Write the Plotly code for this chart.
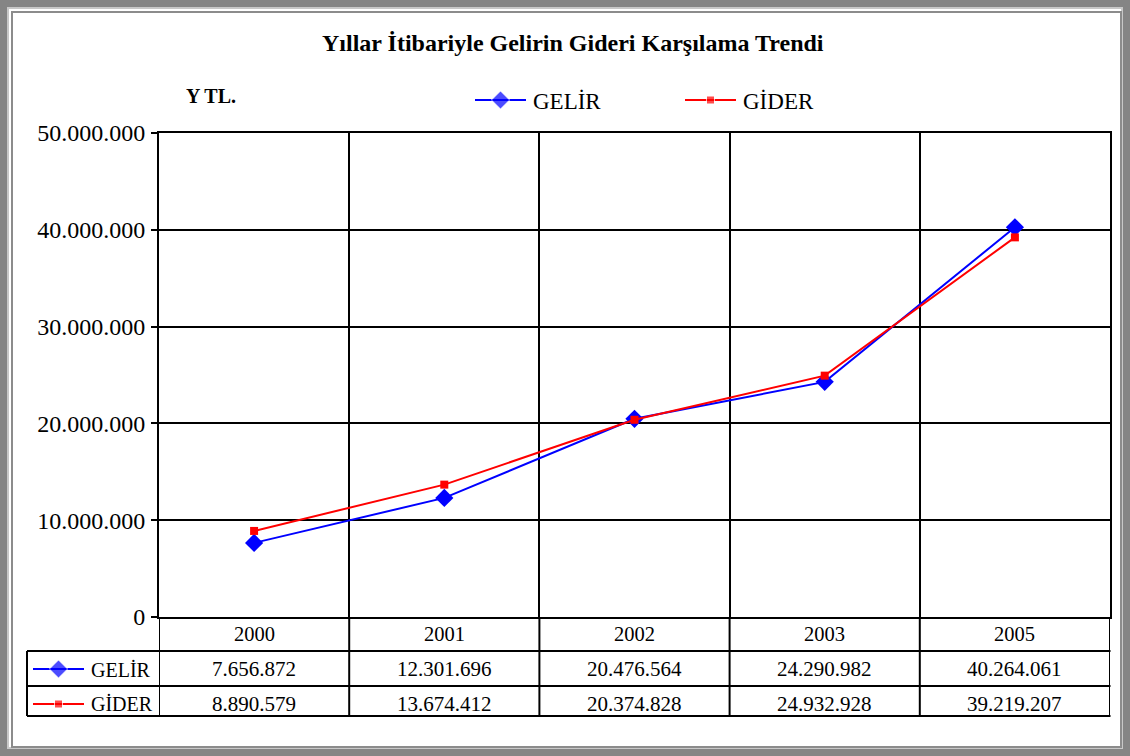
import plotly.graph_objects as go

# ---------------- data ----------------
years = ["2000", "2001", "2002", "2003", "2005"]
gelir = [7656872, 12301696, 20476564, 24290982, 40264061]
gider = [8890579, 13674412, 20374828, 24932928, 39219207]
series_names = ["GELİR", "GİDER"]
title_text = "Yıllar İtibariyle Gelirin Gideri Karşılama Trendi"
unit_text = "Y TL."

W, H = 1130, 756
FONT = "Liberation Serif"
BLUE = "#0000FF"
RED = "#FF0000"

def fmt(v):
    return f"{v:,}".replace(",", ".")

def px(x):
    return x / W

def py(y):
    return 1 - y / H

# plot area in pixels
PX0, PX1 = 159, 1110
PY0, PY1 = 133, 617   # top, bottom
ROW1, ROW2, ROW3 = 651, 686, 716
TBL_LEFT = 27

fig = go.Figure()

fig.add_trace(go.Scatter(
    x=years, y=gelir, name=series_names[0], mode="lines+markers",
    line=dict(color=BLUE, width=2),
    marker=dict(symbol="diamond", size=14, color=BLUE),
    showlegend=False, xaxis="x", yaxis="y"))
fig.add_trace(go.Scatter(
    x=years, y=gider, name=series_names[1], mode="lines+markers",
    line=dict(color=RED, width=2),
    marker=dict(symbol="square", size=8, color=RED),
    showlegend=False, xaxis="x", yaxis="y"))

# custom legend keys (top) and table keys, on a pixel overlay axis
def key(x0, y, color, symbol, size):
    fig.add_trace(go.Scatter(
        x=[x0, x0 + 25.5, x0 + 51], y=[y, y, y], mode="lines+markers",
        line=dict(color=color, width=2),
        marker=dict(symbol=symbol, size=[0, size, 0], color=color),
        showlegend=False, hoverinfo="skip", xaxis="x2", yaxis="y2"))

key(475, 100, BLUE, "diamond", 14)
key(685, 100, RED, "square", 8)
key(33, 669, BLUE, "diamond", 14)
key(33, 704, RED, "square", 8)

shapes = []
# frame (paper coords == pixels since margins are 0)
shapes.append(dict(type="rect", xref="paper", yref="paper", x0=px(7), x1=px(W - 7), y0=py(7), y1=py(H - 7),
                   fillcolor="#c8c8c8", line=dict(width=0), layer="below"))
shapes.append(dict(type="rect", xref="paper", yref="paper", x0=px(9), x1=px(W - 9), y0=py(9), y1=py(H - 9),
                   fillcolor="white", line=dict(width=0), layer="below"))
shapes.append(dict(type="rect", xref="paper", yref="paper", x0=px(12), x1=px(W - 9), y0=py(12), y1=py(H - 9),
                   fillcolor="white", line=dict(color="#8c8c8c", width=2), layer="below"))

# table lines
for yy in (ROW1, ROW2, ROW3):
    shapes.append(dict(type="line", xref="paper", yref="paper", x0=px(TBL_LEFT), x1=px(PX1 + 0.5),
                       y0=py(yy), y1=py(yy), line=dict(color="black", width=2)))
shapes.append(dict(type="line", xref="paper", yref="paper", x0=px(TBL_LEFT), x1=px(TBL_LEFT),
                   y0=py(ROW1), y1=py(ROW3), line=dict(color="black", width=2)))
for i in range(len(years) + 1):
    shapes.append(dict(type="line", xref="x", yref="paper", x0=i - 0.5, x1=i - 0.5,
                       y0=py(PY1), y1=py(ROW3), line=dict(color="black", width=2)))

annotations = []

def ann(text, x, y, size, xref="paper", xanchor="center"):
    annotations.append(dict(text=text, xref=xref, yref="paper", x=x, y=py(y),
                            xanchor=xanchor, yanchor="middle", showarrow=False,
                            font=dict(family=FONT, size=size, color="black")))

ann(f"<b>{title_text}</b>", px(573), 43, 24)
ann(f"<b>{unit_text}</b>", px(184), 96, 20, xanchor="left")
ann(series_names[0], px(531), 101, 23, xanchor="left")
ann(series_names[1], px(741), 101, 23, xanchor="left")
ann(series_names[0], px(89), 670, 20, xanchor="left")
ann(series_names[1], px(89), 704, 20, xanchor="left")
for i, yr in enumerate(years):
    ann(yr, i, 634, 20.5, xref="x")
    ann(fmt(gelir[i]), i, 669, 21, xref="x")
    ann(fmt(gider[i]), i, 704, 21, xref="x")

fig.update_layout(
    width=W, height=H,
    margin=dict(l=0, r=0, t=0, b=0, pad=0),
    paper_bgcolor="#858585",
    plot_bgcolor="rgba(0,0,0,0)",
    separators=",.",
    showlegend=False,
    font=dict(family=FONT, color="black"),
    xaxis=dict(
        domain=[PX0 / W, PX1 / W], anchor="y", type="category",
        range=[-0.5, len(years) - 0.5], autorange=False,
        tickson="boundaries", showgrid=True, gridcolor="black", gridwidth=2,
        showticklabels=False, ticks="", showline=True, linecolor="black", linewidth=2,
        mirror=True, zeroline=False, automargin=False, fixedrange=True),
    yaxis=dict(
        domain=[1 - PY1 / H, 1 - PY0 / H], anchor="x",
        range=[0, 50000000], autorange=False, dtick=10000000, tickformat=",d",
        showgrid=True, gridcolor="black", gridwidth=2,
        ticks="outside", ticklen=6, tickwidth=2, tickcolor="black",
        ticklabelstandoff=1,
        tickfont=dict(family=FONT, size=24, color="black"),
        showline=True, linecolor="black", linewidth=2, mirror=True,
        zeroline=False, automargin=False, fixedrange=True),
    xaxis2=dict(domain=[0, 1], anchor="y2", range=[0, W], autorange=False,
                visible=False, fixedrange=True),
    yaxis2=dict(domain=[0, 1], anchor="x2", range=[H, 0], autorange=False,
                visible=False, fixedrange=True),
    shapes=shapes,
    annotations=annotations,
)

fig.write_html("out.html", config={"displayModeBar": False},
               post_script="document.body.style.margin='0';document.body.style.overflow='hidden';")
